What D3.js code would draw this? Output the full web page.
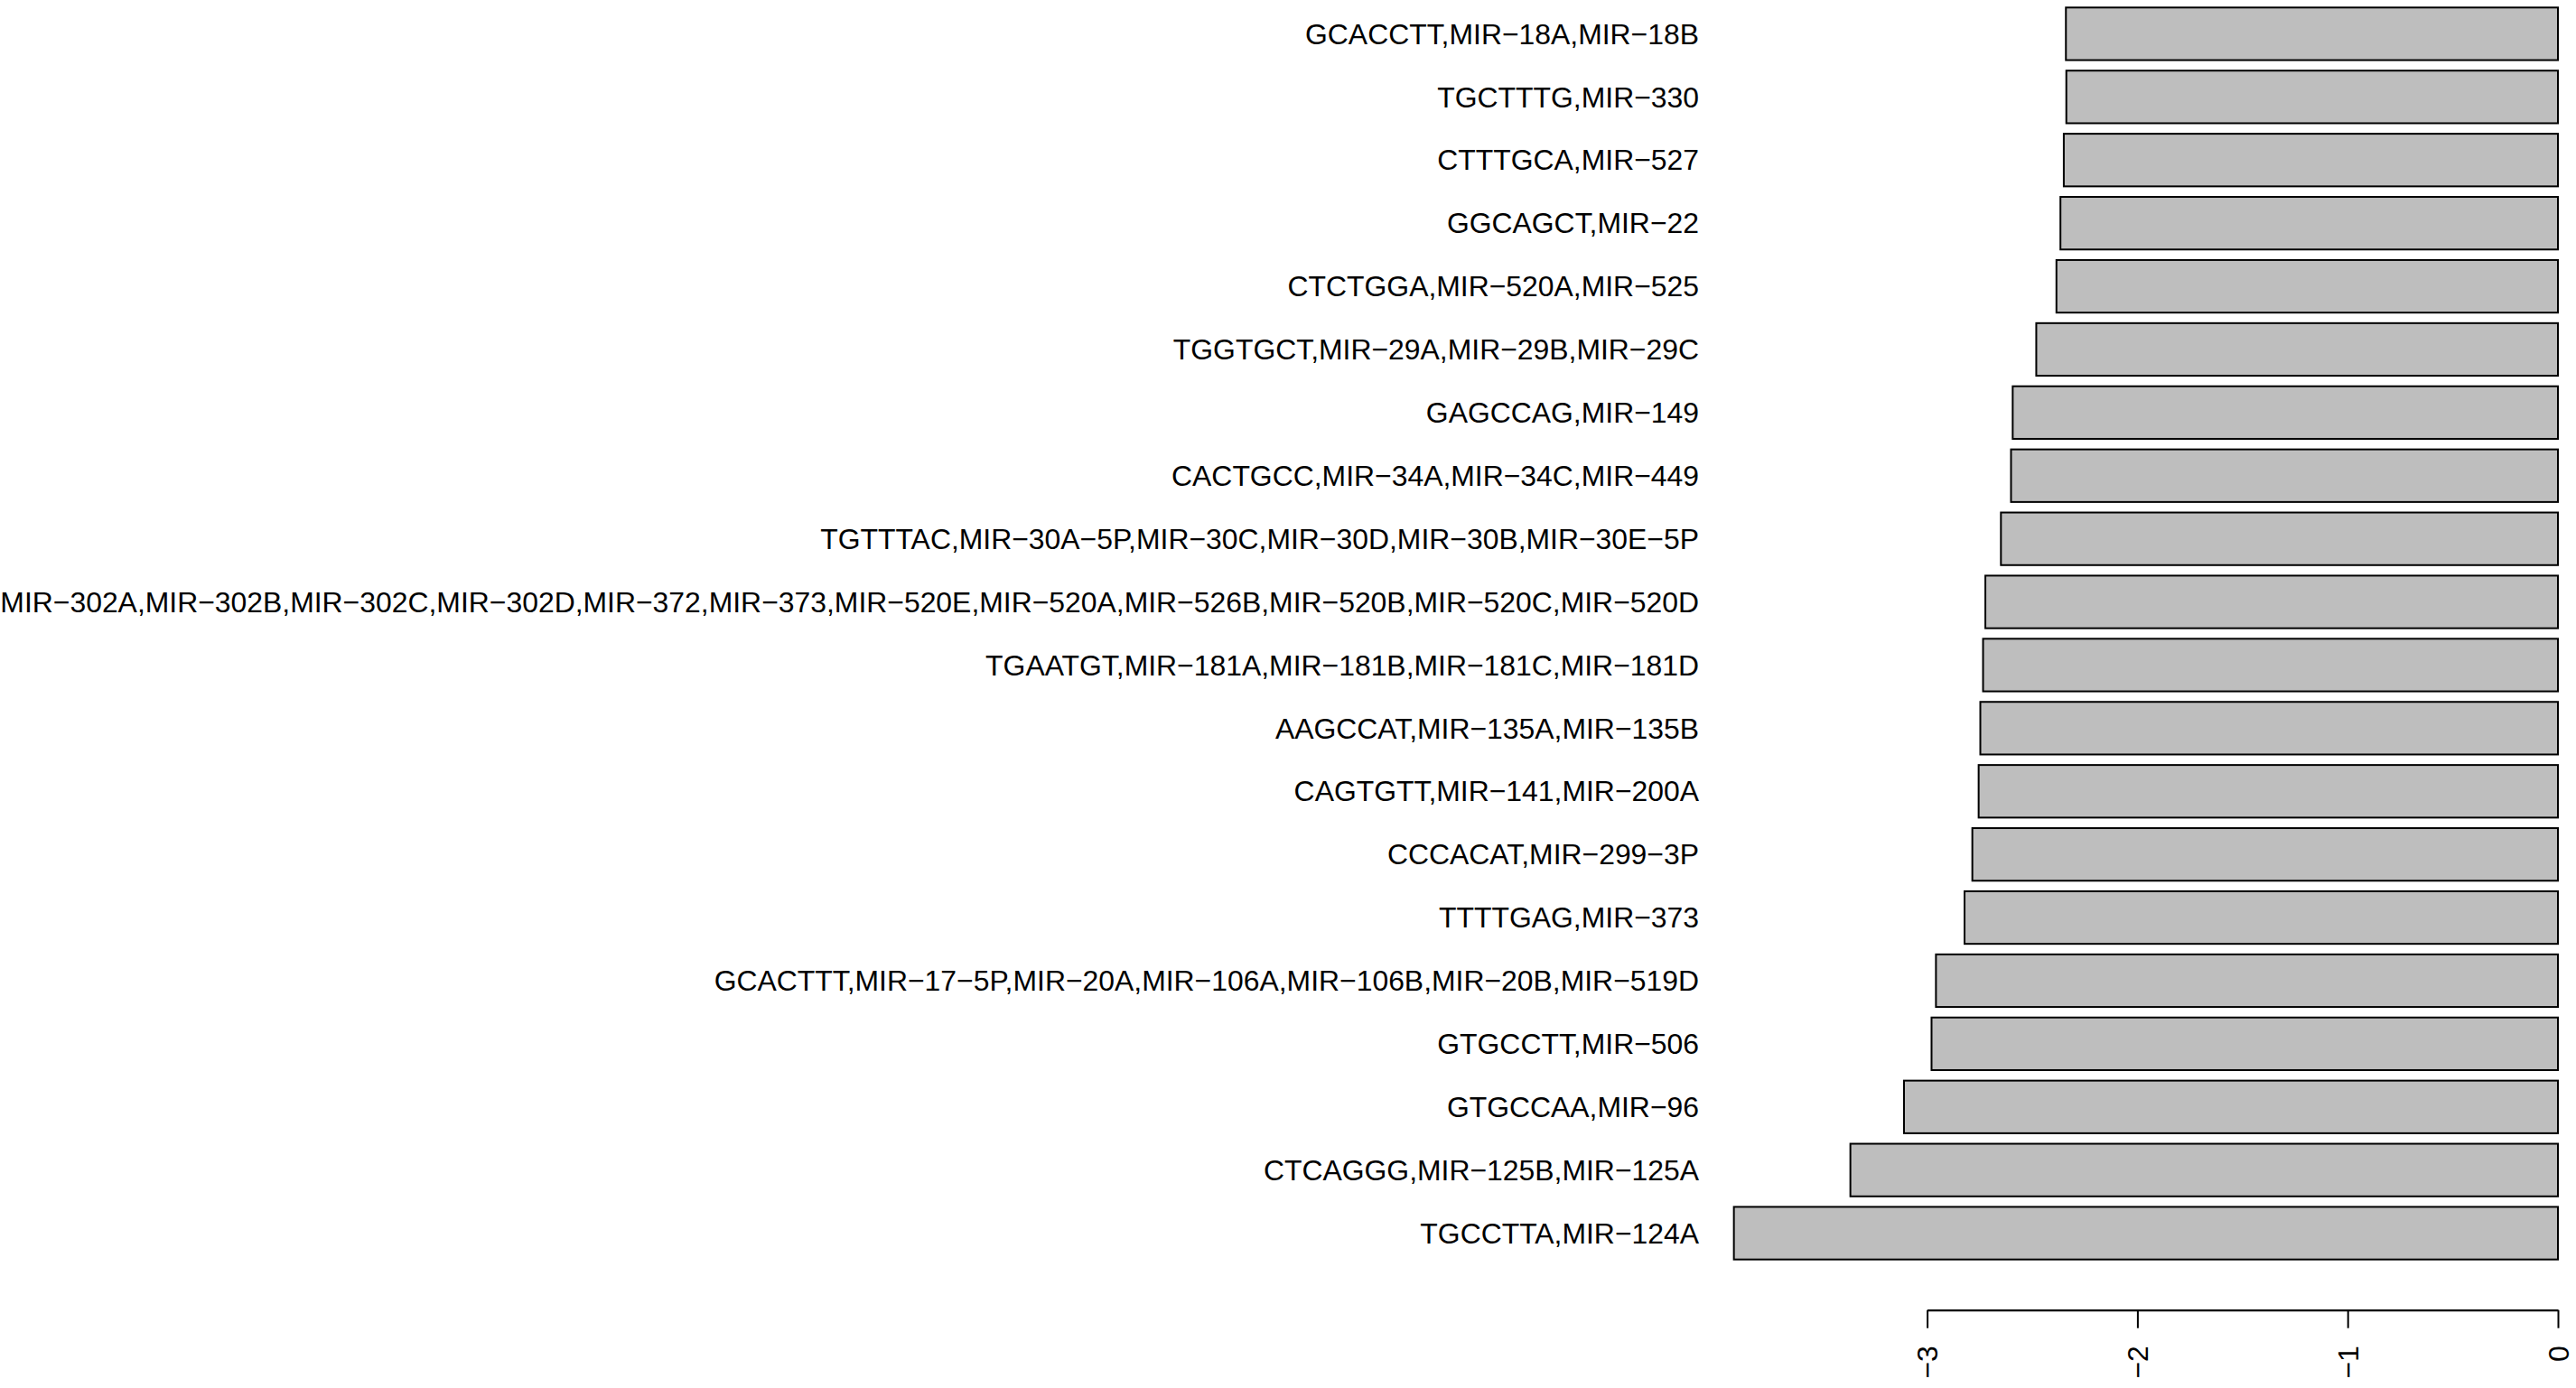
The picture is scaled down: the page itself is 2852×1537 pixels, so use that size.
<!DOCTYPE html>
<html>
<head>
<meta charset="utf-8">
<script src="https://cdn.jsdelivr.net/npm/d3@7"></script>
<style>
  html, body { margin: 0; padding: 0; background: #ffffff; }
  svg { display: block; }
  text { font-family: "Liberation Sans", Arial, Helvetica, sans-serif; }
</style>
</head>
<body>
<svg id="chart" width="2852" height="1537"></svg>
<script>
// ---- data (top to bottom as drawn) ----
const categories = [
  "GCACCTT,MIR−18A,MIR−18B",
  "TGCTTTG,MIR−330",
  "CTTTGCA,MIR−527",
  "GGCAGCT,MIR−22",
  "CTCTGGA,MIR−520A,MIR−525",
  "TGGTGCT,MIR−29A,MIR−29B,MIR−29C",
  "GAGCCAG,MIR−149",
  "CACTGCC,MIR−34A,MIR−34C,MIR−449",
  "TGTTTAC,MIR−30A−5P,MIR−30C,MIR−30D,MIR−30B,MIR−30E−5P",
  "MIR−302A,MIR−302B,MIR−302C,MIR−302D,MIR−372,MIR−373,MIR−520E,MIR−520A,MIR−526B,MIR−520B,MIR−520C,MIR−520D",
  "TGAATGT,MIR−181A,MIR−181B,MIR−181C,MIR−181D",
  "AAGCCAT,MIR−135A,MIR−135B",
  "CAGTGTT,MIR−141,MIR−200A",
  "CCCACAT,MIR−299−3P",
  "TTTTGAG,MIR−373",
  "GCACTTT,MIR−17−5P,MIR−20A,MIR−106A,MIR−106B,MIR−20B,MIR−519D",
  "GTGCCTT,MIR−506",
  "GTGCCAA,MIR−96",
  "CTCAGGG,MIR−125B,MIR−125A",
  "TGCCTTA,MIR−124A"
];
const values = [
  -2.340, -2.338, -2.350, -2.366, -2.385,
  -2.481, -2.593, -2.601, -2.649, -2.723,
  -2.734, -2.747, -2.755, -2.785, -2.822,
  -2.958, -2.979, -3.110, -3.365, -3.919
];
const tickValues = [-3, -2, -1, 0];

// ---- layout ----
const svg = d3.select("#chart");
svg.append("rect").attr("width", 2852).attr("height", 1537).attr("fill", "#ffffff");

const x = d3.scaleLinear().domain([-3, 0]).range([2133.6, 2832]);
const y = d3.scaleBand()
  .domain(categories)
  .range([2.5, 2.5 + 20 * 69.9])
  .paddingInner(1 / 6)
  .paddingOuter(1 / 12);

const data = categories.map((c, i) => ({ c, v: values[i] }));

// bars
svg.append("g").selectAll("rect")
  .data(data)
  .join("rect")
  .attr("x", d => x(d.v))
  .attr("width", d => x(0) - x(d.v))
  .attr("y", d => y(d.c))
  .attr("height", y.bandwidth())
  .attr("fill", "#bebebe")
  .attr("stroke", "#000000")
  .attr("stroke-width", 2);

// category labels
svg.append("g").selectAll("text")
  .data(data)
  .join("text")
  .attr("x", 1881)
  .attr("y", d => y(d.c) + y.bandwidth() / 2)
  .attr("dy", "0.35em")
  .attr("text-anchor", "end")
  .attr("font-size", 31.9)
  .attr("fill", "#000000")
  .text(d => d.c);

// x axis
const axis = d3.axisBottom(x)
  .tickValues(tickValues)
  .tickSize(20)
  .tickSizeOuter(0)
  .tickFormat(d3.format("d"));

const gx = svg.append("g")
  .attr("transform", "translate(0,1450.7)")
  .call(axis);

gx.select(".domain").attr("stroke", "#000").attr("stroke-width", 2.2);
gx.selectAll(".tick line").attr("stroke", "#000").attr("stroke-width", 2);
gx.selectAll(".tick text")
  .attr("font-family", "'Liberation Sans', Arial, Helvetica, sans-serif")
  .attr("font-size", 31.9)
  .attr("fill", "#000")
  .attr("text-anchor", "end")
  .attr("transform", "rotate(-90)")
  .attr("x", -39.5)
  .attr("y", 0)
  .attr("dy", "0.35em");
</script>
</body>
</html>
